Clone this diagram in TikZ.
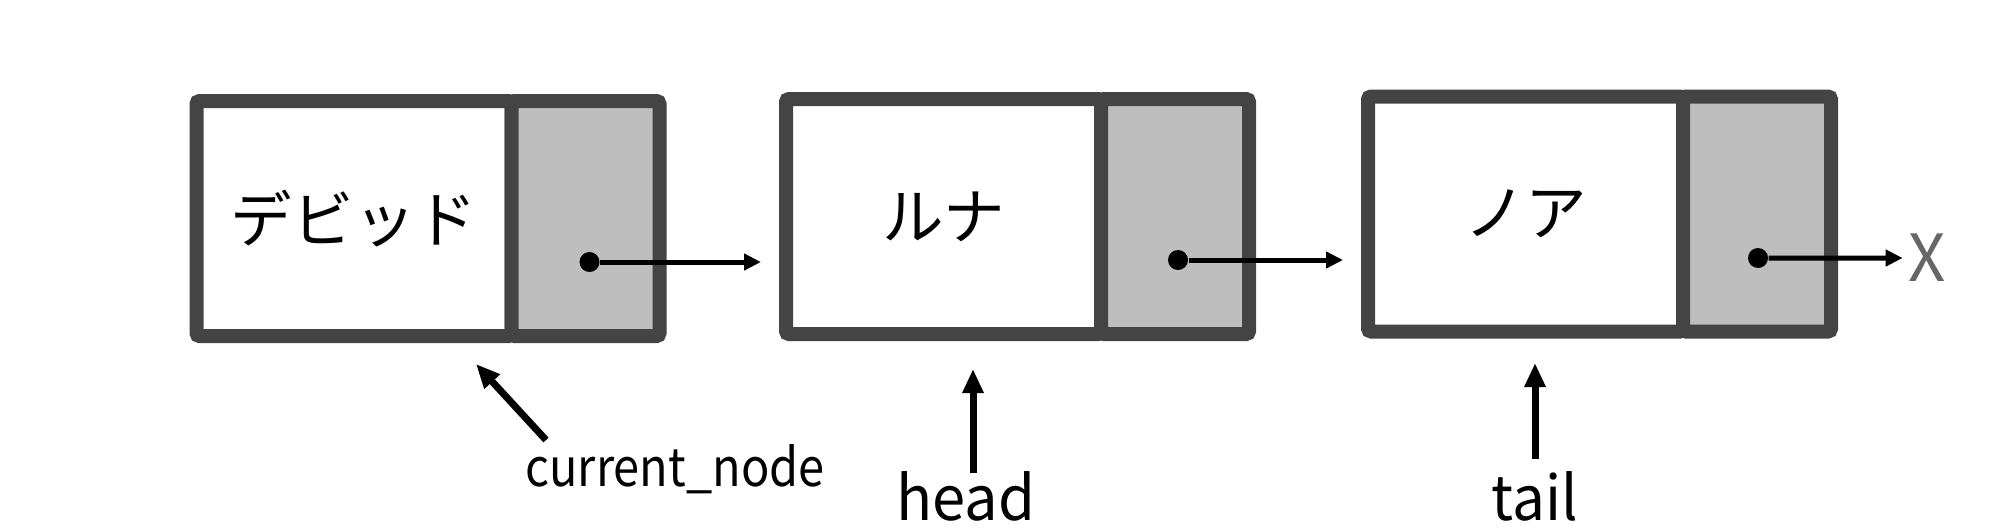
\documentclass[tikz,border=0pt]{standalone}
\usepackage{fontspec}
\setmainfont{Noto Sans CJK JP}
\usetikzlibrary{positioning,arrows.meta}
\definecolor{framegray}{HTML}{444444}
\definecolor{cellgray}{HTML}{BEBEBE}
\definecolor{nilgray}{HTML}{666666}
\begin{document}
\begin{tikzpicture}[y=-1cm,
    data/.style={draw=framegray, line width=0.14cm, fill=white, rounded corners=0.03cm,
      minimum width=3.15cm, minimum height=2.35cm, inner sep=0pt, outer sep=0pt,
      font=\fontsize{17.5}{20}\selectfont},
    link/.style={data, fill=cellgray, minimum width=1.48cm},
    dot/.style={circle, fill=black, inner sep=0pt, minimum size=0.2cm},
    ptr/.style={-{Triangle[length=0.17cm,width=0.16cm]}, line width=0.05cm},
    tag/.style={-{Triangle[length=0.24cm,width=0.2cm]}, line width=0.07cm},
    lbl/.style={inner sep=0pt, anchor=base}]
      \useasboundingbox (0,0) rectangle (20.16,5.28);
      \draw
        (3.54,2.185) node[data] (d1){デビッド}
        (9.435,2.165) node[data] (d2){ルナ}
        (15.255,2.14) node[data] (d3){ノア};
      \node[link, right=0pt of d1] (p1){};
      \node[link, right=0pt of d2] (p2){};
      \node[link, right=0pt of d3] (p3){};
      \node[dot] (q1) at ([shift={(0.04,0.435)}]p1.center){};
      \node[dot] (q2) at ([shift={(0.03,0.435)}]p2.center){};
      \node[dot] (q3) at ([shift={(0.01,0.44)}]p3.center){};
      \node[text=nilgray, font=\fontsize{18.5}{20}\selectfont, inner sep=0.05cm] (nil) at (19.27,2.58){X};
      \begin{scope}[ptr]
        \draw[shorten >=0.25cm] (q1) to (q1 -| d2.west);
        \draw[shorten >=0.25cm] (q2) to (q2 -| d3.west);
        \draw (q3) to (nil);
      \end{scope}
      \node[lbl, font=\fontsize{15}{18}\selectfont] (cur) at (6.75,4.86){\scalebox{0.89}[1]{current\_node}};
      \node[lbl, font=\fontsize{17.5}{20}\selectfont] (head) at (9.66,5.20){\scalebox{0.97}[1]{head}};
      \node[lbl, font=\fontsize{17.5}{20}\selectfont] (tail) at (15.35,5.20){\scalebox{0.95}[1]{tail}};
      \coordinate (cur0) at (5.46,4.40);
      \coordinate (cur1) at (4.76,3.64);
      \coordinate (head0) at (9.73,4.73);
      \coordinate (head1) at (9.73,3.69);
      \coordinate (tail0) at (15.35,4.59);
      \coordinate (tail1) at (15.35,3.63);
      \begin{scope}[tag]
        \draw (cur0) to (cur1);
        \draw (head0) to (head1);
        \draw (tail0) to (tail1);
      \end{scope}
    \end{tikzpicture}
\end{document}
